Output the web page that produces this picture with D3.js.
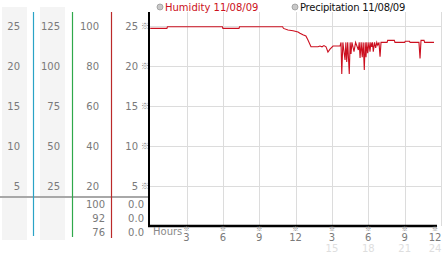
<!DOCTYPE html>
<html>
<head>
<meta charset="utf-8">
<script src="https://cdn.jsdelivr.net/npm/d3@7"></script>
<style>
body { margin:0; background:#fff; }
svg { display:block; font-family:"DejaVu Sans", sans-serif; }
.lab { font-size:10px; fill:#7a7a7a; }
.grid { stroke:#dcdcdc; stroke-width:1; shape-rendering:crispEdges; }
.mark { font-size:8px; fill:#777; font-family:"Noto Sans CJK JP", sans-serif; }
</style>
</head>
<body>
<div id="chart"></div>
<script>
// axis labels of the four left panels
var scale1 = [5, 10, 15, 20, 25];
var scale2 = [25, 50, 75, 100, 125];
var scale3 = [20, 40, 60, 80, 100];
var scale4 = [5, 10, 15, 20, 25];
var rows3 = ["100", "92", "76"];
var rows4 = ["0.0", "0.0", "0.0"];

// hours axis
var hourTicks = [3, 6, 9, 12, 15, 18, 21, 24];
var hourLabels = ["3", "6", "9", "12", "3", "6", "9", "12"];
var pmTicks = [15, 18, 21, 24];
var pmLabels = ["15", "18", "21", "24"];

var legend = ["Humidity 11/08/09", "Precipitation 11/08/09"];

// humidity series (hour of day, value)
var hum_t = [0.00, 1.38, 1.42, 5.96, 6.00, 7.33, 7.37, 10.93, 11.00, 11.37, 11.79, 12.20, 12.36, 12.60, 12.85, 13.02,
	13.27, 13.85, 14.01, 14.18, 14.34, 14.51, 14.67, 14.84, 15.09, 15.67, 15.75, 15.81, 15.90, 16.08, 16.15, 16.22,
	16.30, 16.43, 16.50, 16.57, 16.65, 16.82, 16.95, 17.18, 17.25, 17.32, 17.41, 17.50, 17.58, 17.67, 17.74, 17.81,
	17.88, 17.95, 18.05, 18.14, 18.21, 18.28, 18.35, 18.41, 18.52, 18.61, 18.70, 18.78, 18.88, 18.97, 19.05, 19.55,
	19.60, 20.15, 20.20, 21.00, 21.05, 21.40, 21.45, 22.18, 22.27, 22.35, 22.60, 22.65, 23.42];
var hum_v = [24.7, 24.7, 24.9, 24.9, 24.7, 24.7, 24.9, 24.9, 24.7, 24.5, 24.4, 24.25, 24.1, 23.9, 23.75, 23.25,
	22.4, 22.4, 22.5, 22.4, 22.55, 22.4, 21.75, 22.1, 22.5, 22.5, 22.95, 19.0, 22.95, 20.75, 22.95, 20.5,
	22.95, 19.0, 22.95, 21.5, 22.95, 21.8, 22.95, 22.0, 22.95, 21.0, 22.95, 21.1, 22.95, 19.5, 22.95, 21.1,
	22.95, 21.6, 22.95, 21.8, 22.95, 22.4, 22.95, 21.8, 22.95, 22.25, 22.95, 22.6, 22.95, 21.15, 22.95, 22.95,
	23.2, 23.2, 22.95, 22.95, 23.1, 23.1, 22.95, 22.95, 20.95, 23.2, 23.2, 22.95, 22.95];

var width = 442, height = 253;
var svg = d3.select("#chart").append("svg").attr("width", width).attr("height", height);

// shared vertical range for all panels
var y1 = d3.scaleLinear().domain([0, 25]).range([226, 26]);
var y2 = d3.scaleLinear().domain([0, 125]).range([226, 26]);
var y3 = d3.scaleLinear().domain([0, 100]).range([226, 26]);
var x = d3.scaleLinear().domain([0, 24]).range([150.2, 441]);
var rowY = d3.scalePoint().domain(d3.range(3)).range([204, 232]);

// gray backgrounds for first two panels
svg.append("rect").attr("x", 2).attr("y", 7).attr("width", 25).attr("height", 233).style("fill", "#f4f4f4");
svg.append("rect").attr("x", 40).attr("y", 7).attr("width", 25).attr("height", 233).style("fill", "#f4f4f4");

// grid
svg.selectAll(".hgrid").data(scale4).enter().append("line").attr("class", "grid")
	.attr("x1", 150).attr("x2", width).attr("y1", function(d){ return Math.round(y1(d)) + 0.5; })
	.attr("y2", function(d){ return Math.round(y1(d)) + 0.5; });
svg.selectAll(".vgrid").data(hourTicks).enter().append("line").attr("class", "grid")
	.attr("x1", function(d){ return Math.round(x(d)) + 0.5; }).attr("x2", function(d){ return Math.round(x(d)) + 0.5; })
	.attr("y1", 12).attr("y2", 226);

// separator line between scale and value rows
svg.append("line").attr("x1", 0).attr("x2", 150).attr("y1", 197).attr("y2", 197)
	.style("stroke", "#a8a8a8").style("stroke-width", 2);

// panel colour lines
var panelLines = [{x:33.5, c:"#2aa3c6", y2:236}, {x:72.5, c:"#2fa84a", y2:237}, {x:111.5, c:"#bb2a2a", y2:238}];
svg.selectAll(".pline").data(panelLines).enter().append("line")
	.attr("x1", function(d){ return d.x; }).attr("x2", function(d){ return d.x; })
	.attr("y1", 12).attr("y2", function(d){ return d.y2; })
	.style("stroke", function(d){ return d.c; }).style("stroke-width", 1.2);

// scale labels
function labels(data, sc, xr) {
	svg.append("g").selectAll("text").data(data).enter().append("text").attr("class", "lab")
		.attr("x", xr).attr("y", function(d){ return sc(d) + 3.5; })
		.attr("text-anchor", "end").text(function(d){ return d; });
}
labels(scale1, y1, 20);
labels(scale2, y2, 60);
labels(scale3, y3, 99);
labels(scale4, y1, 138);

svg.append("g").selectAll("text").data(rows3).enter().append("text").attr("class", "lab")
	.attr("x", 105).attr("y", function(d, i){ return rowY(i) + 3.5; }).attr("text-anchor", "end").text(function(d){ return d; });
svg.append("g").selectAll("text").data(rows4).enter().append("text").attr("class", "lab")
	.attr("x", 144).attr("y", function(d, i){ return rowY(i) + 3.5; }).attr("text-anchor", "end").text(function(d){ return d; });

// small marks beside the y ticks
svg.append("g").selectAll("text").data(scale4).enter().append("text").attr("class", "mark")
	.attr("x", 145).attr("y", function(d){ return y1(d) + 3; }).attr("text-anchor", "middle").text("※");

// humidity line
var pts = hum_t.map(function(t, i){ return {t:t, v:hum_v[i]}; });
var line = d3.line().x(function(d){ return x(d.t); }).y(function(d){ return y1(d.v); });
svg.append("path").datum(pts).attr("d", line)
	.attr("fill", "none").attr("stroke", "#cc1020").attr("stroke-width", 1.1);

// axes
svg.append("line").attr("x1", 149).attr("x2", 149).attr("y1", 12).attr("y2", 227)
	.style("stroke", "#000").style("stroke-width", 2);
svg.append("line").attr("x1", 148).attr("x2", 437).attr("y1", 226).attr("y2", 226)
	.style("stroke", "#000").style("stroke-width", 2.5);

// hour labels
svg.append("text").attr("class", "lab").attr("x", 153).attr("y", 235).style("fill", "#8a8a8a").text("Hours");
svg.append("g").selectAll("text").data(hourTicks).enter().append("text").attr("class", "mark")
	.attr("x", function(d){ return Math.min(x(d), 435); }).attr("y", 230.5).attr("text-anchor", "middle")
	.style("font-size", "6px").text("※");
svg.append("g").selectAll("text").data(hourTicks).enter().append("text").attr("class", "lab")
	.attr("x", function(d){ return Math.min(x(d), 435); }).attr("y", 241).attr("text-anchor", "middle")
	.text(function(d, i){ return hourLabels[i]; });
svg.append("g").selectAll("text").data(pmTicks).enter().append("text").attr("class", "lab")
	.attr("x", function(d){ return Math.min(x(d), 435); }).attr("y", 251.5).attr("text-anchor", "middle")
	.style("fill", "#dedede").text(function(d, i){ return pmLabels[i]; });

// legend
var legX = [160, 295];
var legC = ["#cc1020", "#111"];
svg.append("g").selectAll("circle").data(legend).enter().append("circle")
	.attr("cx", function(d, i){ return legX[i]; }).attr("cy", 7).attr("r", 3)
	.style("fill", "#c8c8c8").style("stroke", "#999").style("stroke-width", 0.8);
svg.append("g").selectAll("text").data(legend).enter().append("text")
	.attr("x", function(d, i){ return legX[i] + 5; }).attr("y", 11).style("font-size", "10px")
	.style("letter-spacing", function(d, i){ return i == 1 ? "-0.25px" : "0px"; })
	.style("fill", function(d, i){ return legC[i]; }).text(function(d){ return d; });
</script>
</body>
</html>
